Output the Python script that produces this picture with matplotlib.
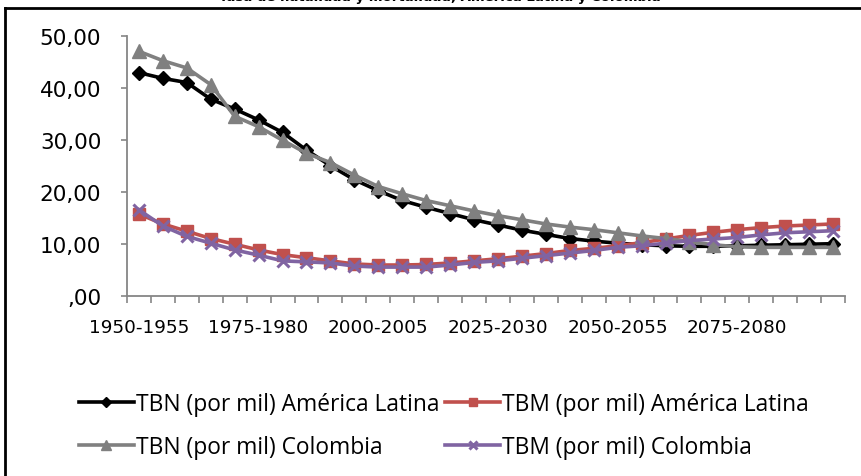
import matplotlib
matplotlib.use("Agg")
import matplotlib.pyplot as plt
from matplotlib.lines import Line2D
from matplotlib.ticker import FixedLocator, FuncFormatter

periodos = ["1950-1955", "1955-1960", "1960-1965", "1965-1970", "1970-1975",
            "1975-1980", "1980-1985", "1985-1990", "1990-1995", "1995-2000",
            "2000-2005", "2005-2010", "2010-2015", "2015-2020", "2020-2025",
            "2025-2030", "2030-2035", "2035-2040", "2040-2045", "2045-2050",
            "2050-2055", "2055-2060", "2060-2065", "2065-2070", "2070-2075",
            "2075-2080", "2080-2085", "2085-2090", "2090-2095", "2095-2100"]

# tasas brutas de natalidad (TBN) y mortalidad (TBM), por mil habitantes
tbn_al = [42.9, 41.8, 41.0, 37.8, 35.9, 33.8, 31.4, 28.0, 25.0, 22.3,
          20.2, 18.3, 17.0, 15.8, 14.6, 13.6, 12.6, 11.8, 11.0, 10.5,
          10.1, 9.8, 9.6, 9.5, 9.5, 9.6, 9.7, 9.8, 9.9, 10.0]
tbm_al = [15.7, 13.8, 12.4, 11.0, 9.9, 8.8, 7.9, 7.3, 6.7, 6.1,
          5.9, 5.9, 6.0, 6.3, 6.7, 7.1, 7.6, 8.1, 8.7, 9.1,
          9.6, 10.2, 10.9, 11.6, 12.2, 12.7, 13.1, 13.4, 13.6, 13.8]
tbn_col = [47.0, 45.2, 43.8, 40.6, 34.5, 32.5, 29.9, 27.4, 25.6, 23.2,
           21.0, 19.6, 18.3, 17.3, 16.3, 15.4, 14.6, 13.8, 13.2, 12.7,
           12.1, 11.5, 11.0, 10.4, 9.8, 9.4, 9.3, 9.3, 9.3, 9.3]
tbm_col = [16.5, 13.4, 11.4, 10.1, 8.8, 7.8, 6.7, 6.5, 6.3, 5.7,
           5.5, 5.5, 5.5, 5.9, 6.4, 6.7, 7.2, 7.7, 8.2, 8.7,
           9.3, 9.6, 10.1, 10.6, 10.9, 11.2, 11.7, 12.1, 12.3, 12.5]

titulo = "Tasa de natalidad y mortalidad, América Latina y Colombia"

fig = plt.figure(figsize=(8.62, 4.77), dpi=100)
ax = fig.add_axes([0.1473, 0.378, 0.833, 0.545])

x = list(range(len(periodos)))
l1, = ax.plot(x, tbn_al, color="black", lw=2.6, marker="D", ms=7,
              label="TBN (por mil) América Latina")
l2, = ax.plot(x, tbm_al, color="#C0504D", lw=2.6, marker="s", ms=8,
              label="TBM (por mil) América Latina")
l3, = ax.plot(x, tbn_col, color="#808080", lw=2.6, marker="^", ms=10,
              label="TBN (por mil) Colombia")
l4, = ax.plot(x, tbm_col, color="#8064A2", lw=2.6, marker="x", ms=9, mew=2.2,
              label="TBM (por mil) Colombia")

ax.set_xlim(-0.5, len(periodos) - 0.5)
ax.set_ylim(0, 50)
ax.set_yticks([0, 10, 20, 30, 40, 50])


def coma(v, pos):
    s = f"{v:.2f}".replace(".", ",")
    return s[1:] if s.startswith("0,") else s


ax.yaxis.set_major_formatter(FuncFormatter(coma))

# marcas entre categorías, etiquetas cada 5 periodos
ax.xaxis.set_major_locator(FixedLocator([i - 0.5 for i in range(len(periodos) + 1)]))
ax.xaxis.set_major_formatter(FuncFormatter(lambda v, p: ""))
ax.xaxis.set_minor_locator(FixedLocator(x[::5]))
ax.set_xticklabels([periodos[i] for i in x[::5]], minor=True)
ax.tick_params(axis="x", which="major", direction="out", length=5, width=1.2,
               color="#868686")
ax.tick_params(axis="x", which="minor", length=0, pad=16, labelsize=13.2)
ax.tick_params(axis="y", direction="out", length=4.5, width=1.2, color="#868686",
               pad=14, labelsize=15.5)

for s in ("top", "right"):
    ax.spines[s].set_visible(False)
for s in ("left", "bottom"):
    ax.spines[s].set_color("#868686")
    ax.spines[s].set_linewidth(1.3)

fig.legend([l1, l3, l2, l4], [l1.get_label(), l3.get_label(), l2.get_label(), l4.get_label()],
           ncol=2, loc="upper left", bbox_to_anchor=(0.0916, 0.1755),
           frameon=False, handlelength=2.4, handletextpad=0.1, columnspacing=0.26,
           labelspacing=0.84, borderpad=0, borderaxespad=0,
           prop={"family": "Open Sans", "size": 16.4}, markerscale=0.7)

fig.text(440 / 862, 1 - 1.5 / 477, titulo, ha="center", va="baseline",
         fontweight="bold", fontsize=9.5)

# marco exterior del gráfico
fig.add_artist(Line2D([5 / 862, 1], [1 - 9 / 477, 1 - 9 / 477], color="black",
                      lw=2, transform=fig.transFigure))
fig.add_artist(Line2D([5 / 862, 5 / 862], [0, 1 - 9 / 477], color="black",
                      lw=2, transform=fig.transFigure))

fig.savefig("out.png", dpi=100)
